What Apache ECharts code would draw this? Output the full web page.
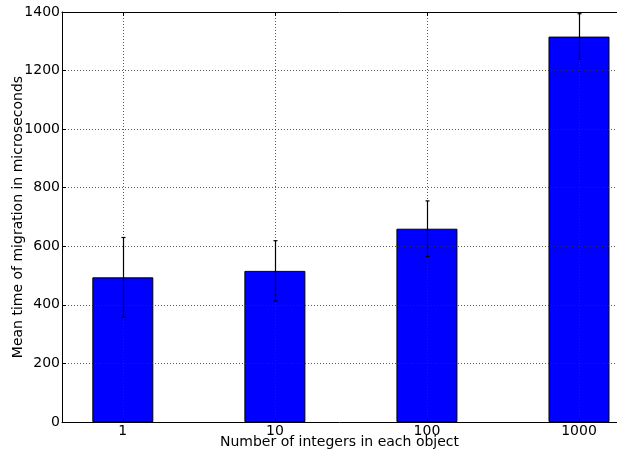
<!DOCTYPE html>
<html>
<head>
<meta charset="utf-8">
<script src="https://cdn.jsdelivr.net/npm/echarts@6/dist/echarts.min.js"></script>
<style>html,body{margin:0;padding:0;background:#fff}#c{width:617px;height:457px}</style>
</head>
<body>
<div id="c"></div>
<script>
var categories = ['1', '10', '100', '1000'];
var means = [494, 516, 660, 1316];
var errors = [136, 103, 95, 78];
var yTicks = [0, 200, 400, 600, 800, 1000, 1200, 1400];

var positions = categories.map(function (c, i) { return i; });
var barData = means.map(function (v, i) { return [positions[i], v]; });
var errData = means.map(function (v, i) { return [positions[i], v - errors[i], v + errors[i]]; });

var font = 'DejaVu Sans';
var grid = {left: 62, right: 0, top: 12, bottom: 35, outerBoundsMode: 'none', containLabel: false};
var chart = echarts.init(document.getElementById('c'), null, {renderer: 'canvas'});
var dotted = {show: true, lineStyle: {color: '#333', width: 1, type: [1, 2], opacity: 0.8}};

chart.setOption({
  animation: false,
  backgroundColor: '#fff',
  grid: grid,
  xAxis: [{
    type: 'value', min: -0.4, max: 3.25, z: 10,
    name: 'Number of integers in each object', nameLocation: 'middle', nameGap: 13, nameMoveOverlap: false,
    nameTextStyle: {fontFamily: font, fontSize: 14, color: '#000'},
    axisLine: {show: true, onZero: false, lineStyle: {color: '#000', width: 1}},
    axisTick: {show: true, inside: true, length: 4, customValues: positions, lineStyle: {color: '#000'}},
    axisLabel: {show: true, margin: 2, customValues: positions, fontFamily: font, fontSize: 14, color: '#000',
      formatter: function (v) { return categories[Math.round(v)]; }},
    splitLine: dotted
  }, {
    type: 'value', position: 'top', min: -0.4, max: 3.25, z: 10,
    axisLine: {show: true, onZero: false, lineStyle: {color: '#000', width: 1}},
    axisTick: {show: true, inside: true, length: 4, customValues: positions, lineStyle: {color: '#000'}},
    axisLabel: {show: false},
    splitLine: {show: false}
  }],
  yAxis: [{
    type: 'value', min: 0, max: 1400, interval: 200, z: 10,
    name: 'Mean time of migration in microseconds', nameLocation: 'middle', nameGap: 37, nameMoveOverlap: false,
    nameTextStyle: {fontFamily: font, fontSize: 14, color: '#000'},
    axisLine: {show: true, onZero: false, lineStyle: {color: '#000', width: 1}},
    axisTick: {show: true, inside: true, length: 4, lineStyle: {color: '#000'}},
    axisLabel: {margin: 2, fontFamily: font, fontSize: 14, color: '#000',
      formatter: function (v) { return yTicks.indexOf(v) >= 0 ? String(v) : ''; }},
    splitLine: dotted
  }],
  series: [{
    type: 'bar', z: 2,
    data: barData,
    barWidth: 61,
    itemStyle: {color: '#0000ff', borderColor: '#000', borderWidth: 1}
  }, {
    type: 'custom', z: 20,
    data: errData,
    renderItem: function (params, api) {
      var x = api.value(0);
      var lo = api.coord([x, api.value(1)]);
      var hi = api.coord([x, api.value(2)]);
      var cx = Math.round(lo[0]) + 0.5;
      var c = 2;
      var style = {stroke: '#000', lineWidth: 1.2};
      return {type: 'group', children: [
        {type: 'line', shape: {x1: cx, y1: lo[1], x2: cx, y2: hi[1]}, style: style},
        {type: 'line', shape: {x1: cx - c, y1: lo[1], x2: cx + c, y2: lo[1]}, style: style},
        {type: 'line', shape: {x1: cx - c, y1: hi[1], x2: cx + c, y2: hi[1]}, style: style}
      ]};
    }
  }]
});
</script>
</body>
</html>
